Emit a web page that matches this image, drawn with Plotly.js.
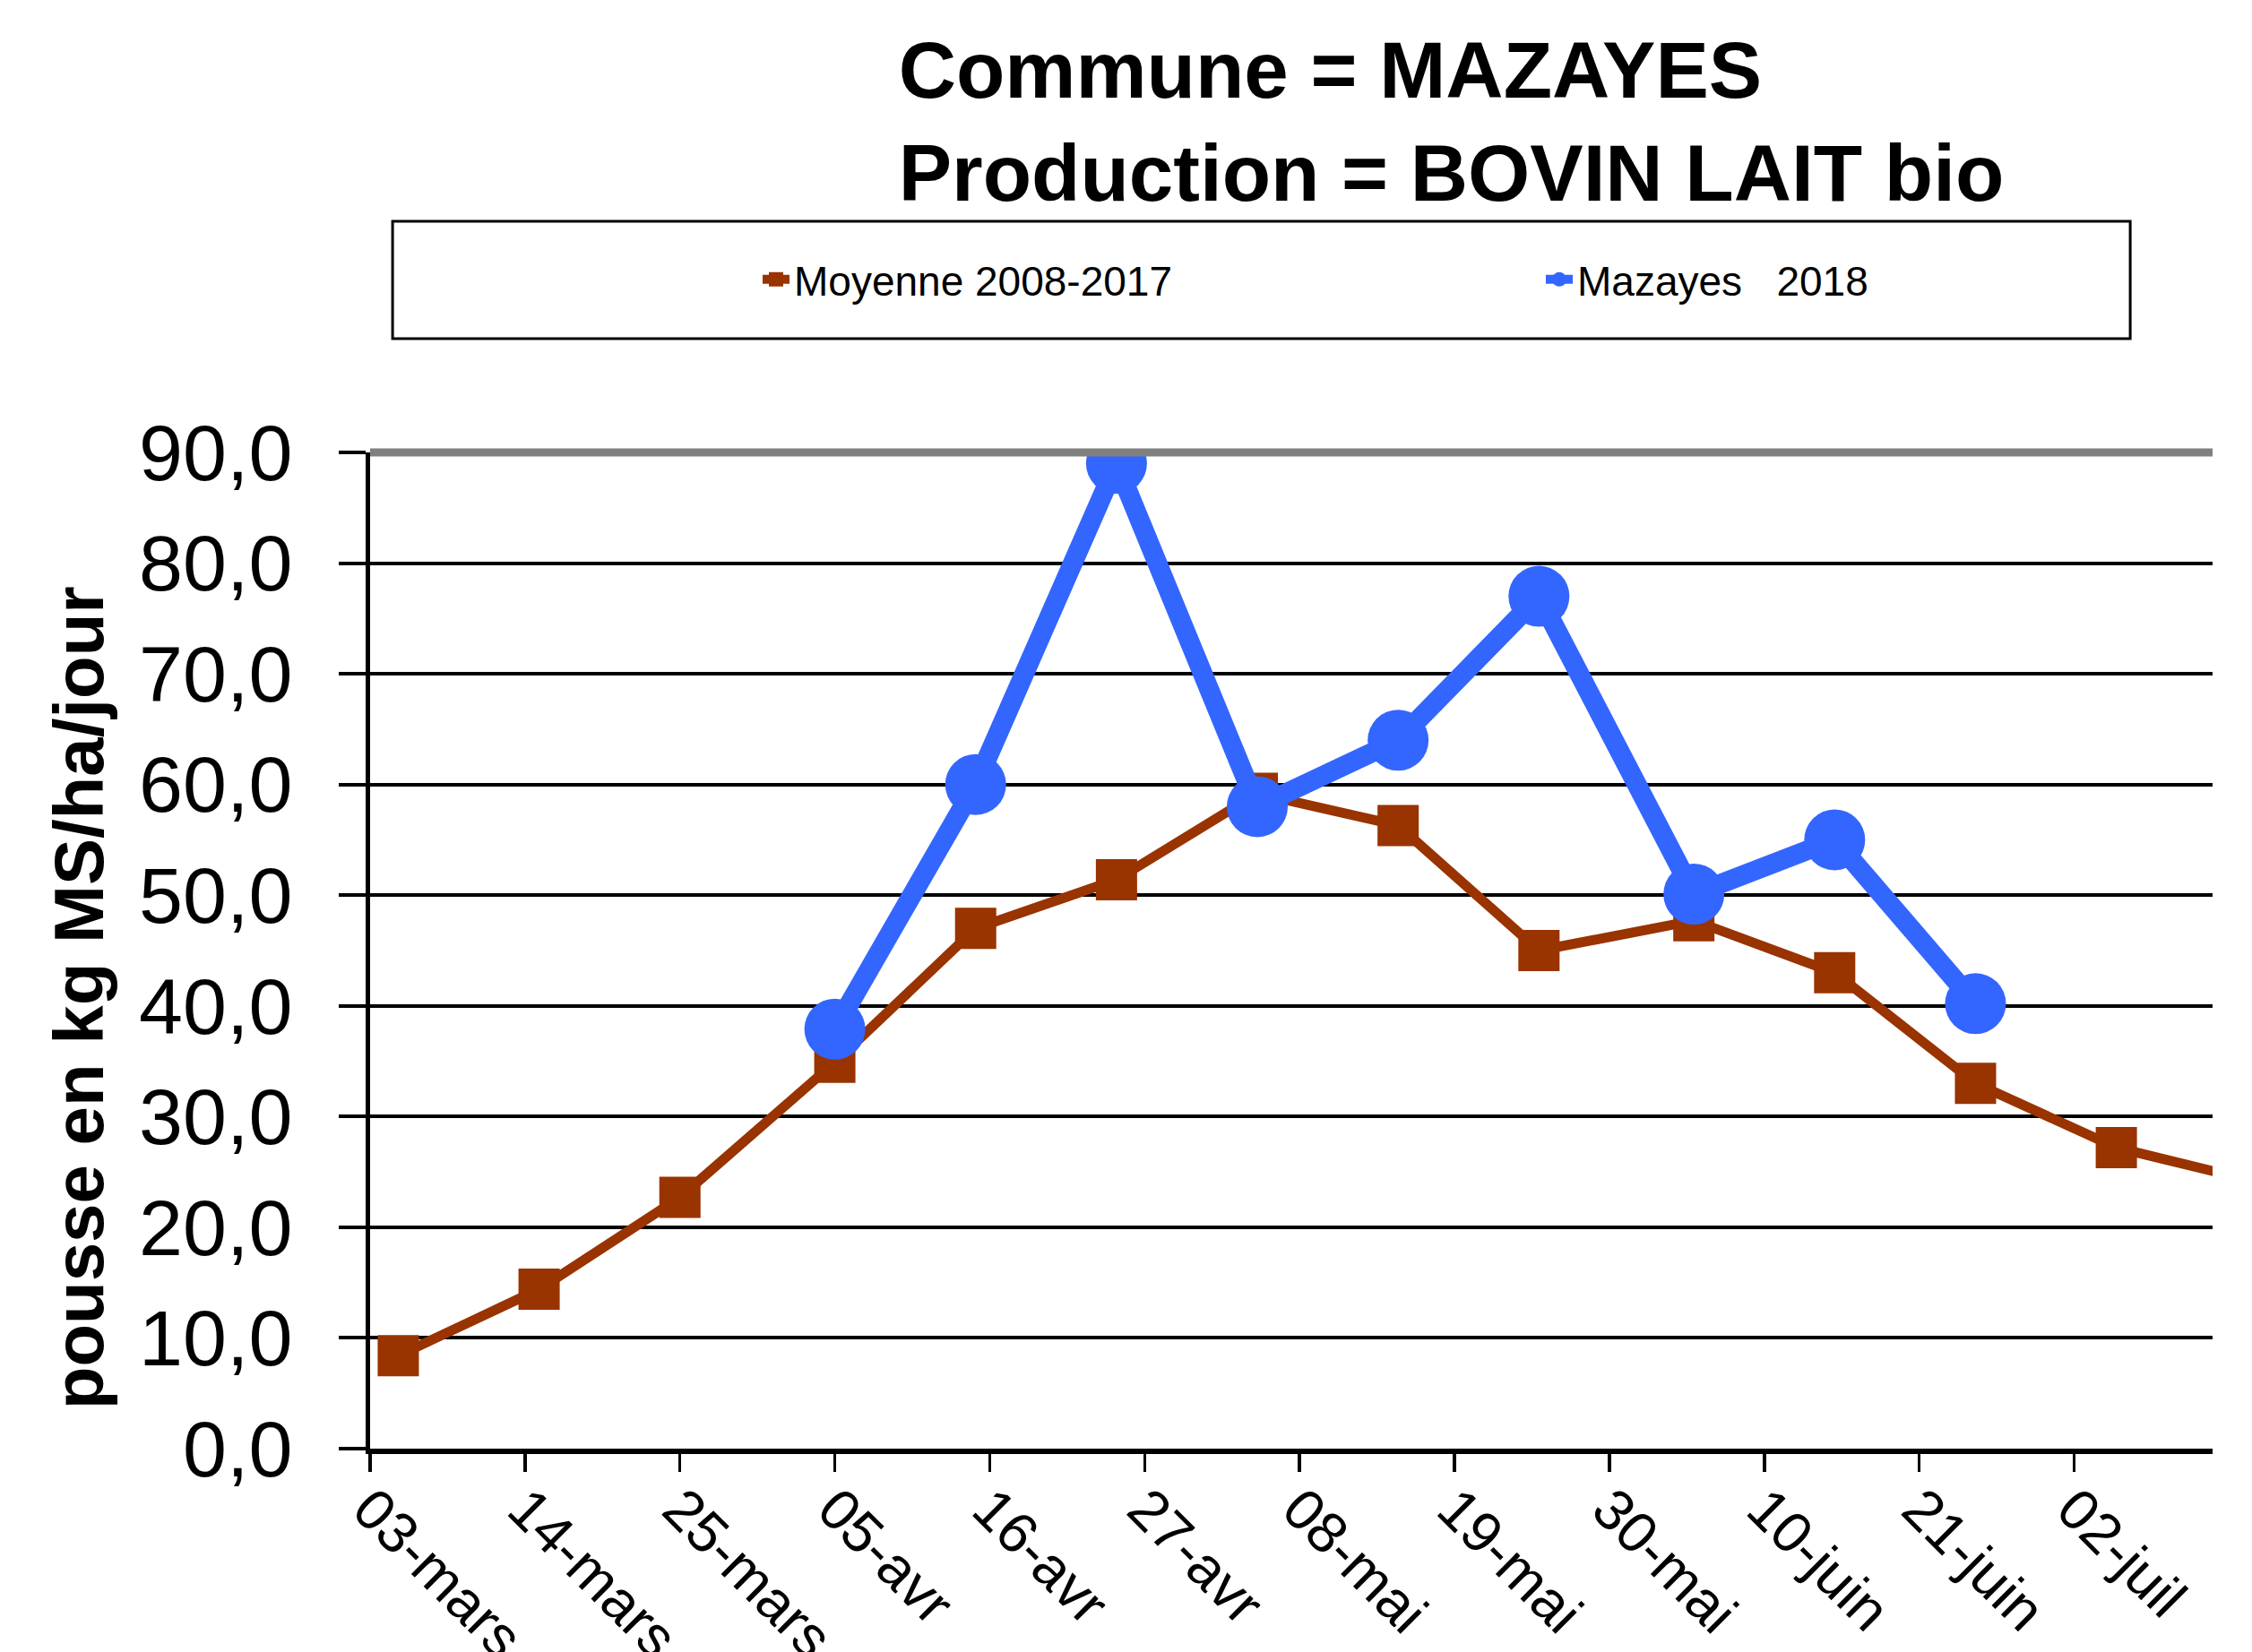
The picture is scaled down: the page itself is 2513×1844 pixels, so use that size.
<!DOCTYPE html>
<html>
<head>
<meta charset="utf-8">
<script src="https://cdn.plot.ly/plotly-3.0.1.min.js"></script>
<style>html,body{margin:0;padding:0;background:#fff;}#chart{width:2513px;height:1844px;}</style>
</head>
<body>
<div id="chart"></div>
<script>
// ---- data ----
const moyenneDates = ['2018-03-05','2018-03-15','2018-03-25','2018-04-05','2018-04-15','2018-04-25','2018-05-05','2018-05-15','2018-05-25','2018-06-05','2018-06-15','2018-06-25','2018-07-05','2018-07-15'];
const moyenneValues = [8.4, 14.4, 22.7, 34.9, 47.0, 51.4, 59.2, 56.3, 45.0, 47.7, 43.0, 33.0, 27.2, 24.1];
const mazayesDates = ['2018-04-05','2018-04-15','2018-04-25','2018-05-05','2018-05-15','2018-05-25','2018-06-05','2018-06-15','2018-06-25'];
const mazayesValues = [37.9, 60.0, 89.0, 58.0, 64.0, 77.0, 50.1, 55.0, 40.2];
const tickDates = ['2018-03-03','2018-03-14','2018-03-25','2018-04-05','2018-04-16','2018-04-27','2018-05-08','2018-05-19','2018-05-30','2018-06-10','2018-06-21','2018-07-02'];
const tickLabels = ['03-mars','14-mars','25-mars','05-avr','16-avr','27-avr','08-mai','19-mai','30-mai','10-juin','21-juin','02-juil'];
const seriesNames = ['Moyenne 2008-2017', 'Mazayes   2018'];
const titleText = 'Commune = MAZAYES<br>Production = BOVIN LAIT bio';
const yTitle = 'pousse en kg MS/ha/jour';

const FONT = 'Liberation Sans, Arial, sans-serif';

const traces = [
  {
    x: moyenneDates, y: moyenneValues, name: seriesNames[0],
    type: 'scatter', mode: 'lines+markers', legend: 'legend',
    line: {color: '#993300', width: 11},
    marker: {symbol: 'square', size: 46, color: '#993300'}
  },
  {
    x: mazayesDates, y: mazayesValues, name: seriesNames[1],
    type: 'scatter', mode: 'lines+markers', legend: 'legend2',
    line: {color: '#3366FF', width: 22},
    marker: {symbol: 'circle', size: 68, color: '#3366FF'}
  }
];

const legendStyle = {
  orientation: 'h', xanchor: 'left', y: 1.1736, yanchor: 'middle',
  bgcolor: 'rgba(0,0,0,0)', borderwidth: 0,
  font: {family: FONT, size: 46, color: '#000'}
};

const layout = {
  width: 2513, height: 1844,
  paper_bgcolor: '#ffffff', plot_bgcolor: '#ffffff',
  separators: ', ',
  margin: {l: 413, r: 44, t: 505, b: 227},
  font: {family: FONT, color: '#000'},
  title: {
    text: titleText,
    font: {family: FONT, size: 89, color: '#000', weight: 'bold'},
    xref: 'container', x: 0.399, xanchor: 'left',
    yref: 'container', y: 0.941, yanchor: 'top'
  },
  showlegend: true,
  legend: Object.assign({}, legendStyle, {x: 0.2106}),
  legend2: Object.assign({}, legendStyle, {x: 0.6357}),
  xaxis: {
    type: 'date',
    range: ['2018-03-03', '2018-07-11 20:00'],
    tickmode: 'array', tickvals: tickDates, ticktext: tickLabels,
    tickangle: 45,
    ticks: 'outside', ticklen: 20, tickwidth: 3.5, tickcolor: '#000',
    ticklabelstandoff: -22,
    tickfont: {family: FONT, size: 64, color: '#000'},
    showline: true, linecolor: '#000', linewidth: 6,
    showgrid: false, zeroline: false
  },
  yaxis: {
    range: [0, 90], dtick: 10, tick0: 0,
    tickformat: '.1f',
    ticks: 'outside', ticklen: 30, tickwidth: 4, tickcolor: '#000',
    ticklabelstandoff: 34,
    tickfont: {family: FONT, size: 88, color: '#000'},
    showline: true, linecolor: '#000', linewidth: 5,
    showgrid: true, gridcolor: '#000', gridwidth: 4,
    zeroline: false
  },
  annotations: [
    {text: yTitle, textangle: -90, showarrow: false,
     xref: 'paper', yref: 'paper', x: -0.158, y: 0.4523, xanchor: 'center', yanchor: 'middle',
     font: {family: FONT, size: 78, color: '#000', weight: 'bold'}}
  ],
  shapes: [
    {type: 'line', xref: 'paper', yref: 'paper', x0: 0, x1: 1, y0: 1, y1: 1,
     line: {color: '#808080', width: 9}, layer: 'above'},
    {type: 'rect', xref: 'paper', yref: 'paper', x0: 0.0122, x1: 0.9553, y0: 1.1142, y1: 1.2320,
     line: {color: '#000', width: 3}, fillcolor: 'rgba(0,0,0,0)'}
  ]
};

Plotly.newPlot('chart', traces, layout, {displayModeBar: false, staticPlot: true});
</script>
</body>
</html>
